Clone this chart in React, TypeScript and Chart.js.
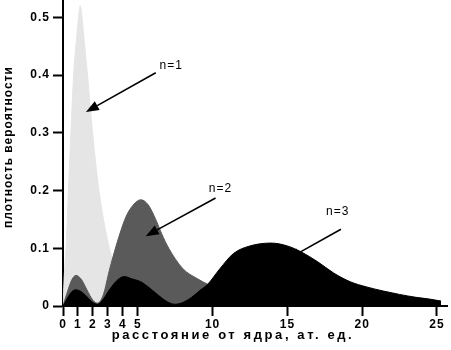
import React, { useEffect, useRef } from 'react';
import { Chart, registerables } from 'chart.js';

Chart.register(...registerables);

// n = 1 (light gray)
const n1X = [0, 0.1, 0.2, 0.36, 0.53, 0.71, 0.93, 1.04, 1.15, 1.27, 1.38, 1.64, 1.98, 2.42, 3.13, 3.6, 4.2, 5.0, 6.0];
const n1Y = [0, 0.06, 0.097, 0.197, 0.3, 0.4, 0.47, 0.5, 0.52, 0.5, 0.47, 0.4, 0.3, 0.197, 0.097, 0.06, 0.035, 0.015, 0.005];

// n = 2 (dark gray)
const n2X = [0, 0.3, 0.6, 0.87, 1.2, 1.6, 2.0, 2.31, 2.7, 3.1, 3.47, 3.8, 4.2, 4.6, 5.2, 5.7, 6.2, 6.6, 7.07, 8.0, 9.0, 9.65, 10.5, 11.5, 12.5, 13.5];
const n2Y = [0, 0.025, 0.046, 0.053, 0.047, 0.028, 0.01, 0.005, 0.02, 0.062, 0.097, 0.125, 0.154, 0.172, 0.184, 0.175, 0.15, 0.125, 0.1, 0.065, 0.047, 0.038, 0.03, 0.02, 0.012, 0.007];

// n = 3 (black)
const n3X = [0, 0.3, 0.6, 0.87, 1.2, 1.6, 2.0, 2.3, 2.7, 3.1, 3.6, 4.09, 4.6, 5.2, 5.8, 6.4, 7.0, 7.5, 8.0, 8.6, 9.2, 9.65, 10.5, 11.4, 12.5, 13.9, 15.0, 15.9, 17.0, 18.1, 19.2, 20.3, 21.4, 22.5, 23.6, 24.5, 25.27];
const n3Y = [0, 0.014, 0.025, 0.028, 0.025, 0.016, 0.006, 0.003, 0.012, 0.028, 0.044, 0.051, 0.047, 0.042, 0.031, 0.018, 0.007, 0.003, 0.006, 0.015, 0.028, 0.037, 0.065, 0.091, 0.104, 0.109, 0.104, 0.094, 0.077, 0.057, 0.042, 0.033, 0.026, 0.02, 0.015, 0.012, 0.0086];

const seriesColors = ['#000000', '#5a5a5a', '#e5e5e5'];

const xTickValues = [0, 1, 2, 3, 4, 5, 10, 15, 20, 25];
const yTickValues = [0, 0.1, 0.2, 0.3, 0.4, 0.5];

const xTitle = 'расстояние от ядра, ат. ед.';
const yTitle = 'плотность вероятности';

// annotations (data coordinates)
const annLabels = ['n=1', 'n=2', 'n=3'];
const annLabelX = [7.23, 10.53, 18.37];
const annLabelY = [0.417, 0.204, 0.163];
const arrowFromX = [6.2, 10.2, 18.58];
const arrowFromY = [0.404, 0.187, 0.133];
const arrowToX = [1.53, 5.53, 15.0];
const arrowToY = [0.336, 0.121, 0.081];

const FONT = '"Liberation Sans", Arial, sans-serif';

const annotationPlugin = {
  id: 'annotations',
  beforeDraw(chart: any) {
    (chart.ctx as any).letterSpacing = '1px';
  },
  afterDraw(chart: any) {
    const { ctx, scales } = chart;
    const xs = scales.x;
    const ys = scales.y;
    ctx.save();
    for (let i = 0; i < annLabels.length; i++) {
      const x1 = xs.getPixelForValue(arrowFromX[i]);
      const y1 = ys.getPixelForValue(arrowFromY[i]);
      const x2 = xs.getPixelForValue(arrowToX[i]);
      const y2 = ys.getPixelForValue(arrowToY[i]);
      const ang = Math.atan2(y2 - y1, x2 - x1);
      const headLen = 13;
      const headW = 5;
      const bx = x2 - headLen * Math.cos(ang);
      const by = y2 - headLen * Math.sin(ang);
      ctx.strokeStyle = '#000';
      ctx.lineWidth = 1.6;
      ctx.beginPath();
      ctx.moveTo(x1, y1);
      ctx.lineTo(bx, by);
      ctx.stroke();
      ctx.fillStyle = '#000';
      ctx.beginPath();
      ctx.moveTo(x2, y2);
      ctx.lineTo(bx + headW * Math.sin(ang), by - headW * Math.cos(ang));
      ctx.lineTo(bx - headW * Math.sin(ang), by + headW * Math.cos(ang));
      ctx.closePath();
      ctx.fill();
      ctx.font = `12px ${FONT}`;
      (ctx as any).letterSpacing = '1px';
      ctx.textAlign = 'center';
      ctx.textBaseline = 'middle';
      ctx.fillText(annLabels[i], xs.getPixelForValue(annLabelX[i]), ys.getPixelForValue(annLabelY[i]));
    }
    ctx.fillStyle = '#000';
    ctx.font = `bold 13px ${FONT}`;
    (ctx as any).letterSpacing = '2.6px';
    ctx.textAlign = 'center';
    ctx.textBaseline = 'alphabetic';
    ctx.fillText(xTitle, 233, 339);
    ctx.textBaseline = 'middle';
    ctx.translate(9, 147);
    ctx.rotate(-Math.PI / 2);
    ctx.font = `bold 12px ${FONT}`;
    (ctx as any).letterSpacing = '1px';
    ctx.fillText(yTitle, 0, 0);
    ctx.restore();
    (ctx as any).letterSpacing = '0px';
  },
};

export default function App() {
  const canvasRef = useRef<HTMLCanvasElement | null>(null);

  useEffect(() => {
    document.body.style.margin = '0';
    const canvas = canvasRef.current;
    if (!canvas) return;
    const mk = (xsArr: number[], ysArr: number[]) => xsArr.map((x, i) => ({ x, y: ysArr[i] }));
    const chart = new Chart(canvas, {
      type: 'line',
      data: {
        datasets: [
          { label: 'n=3', data: mk(n3X, n3Y), backgroundColor: seriesColors[0], borderColor: seriesColors[0] },
          { label: 'n=2', data: mk(n2X, n2Y), backgroundColor: seriesColors[1], borderColor: seriesColors[1] },
          { label: 'n=1', data: mk(n1X, n1Y), backgroundColor: seriesColors[2], borderColor: seriesColors[2] },
        ].map((d) => ({
          ...d,
          fill: 'origin',
          borderWidth: 1,
          pointRadius: 0,
          cubicInterpolationMode: 'monotone' as const,
        })),
      },
      options: {
        responsive: false,
        animation: false,
        devicePixelRatio: 1,
        layout: { padding: { top: 0, right: 4, left: 0, bottom: 0 } },
        plugins: { legend: { display: false }, tooltip: { enabled: false } },
        scales: {
          x: {
            type: 'linear',
            min: 0,
            max: 25.67,
            afterBuildTicks: (ax: any) => {
              ax.ticks = xTickValues.map((v) => ({ value: v }));
            },
            afterFit: (s: any) => {
              s.height = 44;
              s.paddingLeft = 0;
              s.paddingRight = 0;
            },
            ticks: {
              autoSkip: false,
              maxRotation: 0,
              color: '#000',
              padding: 1,
              font: { family: FONT, size: 12, weight: 'bold' },
              callback: (v: any) => String(v),
            },
            grid: { drawOnChartArea: false, drawTicks: true, tickLength: 10, tickColor: '#000', tickWidth: 2 },
            border: { display: true, color: '#000', width: 2 },
          },
          y: {
            type: 'linear',
            min: 0,
            max: 0.53,
            afterBuildTicks: (ax: any) => {
              ax.ticks = yTickValues.map((v) => ({ value: v }));
            },
            afterFit: (s: any) => {
              s.width = 63;
              s.paddingTop = 0;
              s.paddingBottom = 0;
            },
            ticks: {
              color: '#000',
              padding: 3,
              font: { family: FONT, size: 12, weight: 'bold' },
              callback: (v: any) => (v === 0 ? '0' : Number(v).toFixed(1)),
            },
            grid: { drawOnChartArea: false, drawTicks: true, tickLength: 10, tickColor: '#000', tickWidth: 2 },
            border: { display: true, color: '#000', width: 2 },
          },
        },
      },
      plugins: [annotationPlugin],
    });
    return () => chart.destroy();
  }, []);

  return (
    <canvas ref={canvasRef} width={451} height={350} style={{ display: 'block', width: 451, height: 350 }} />
  );
}
